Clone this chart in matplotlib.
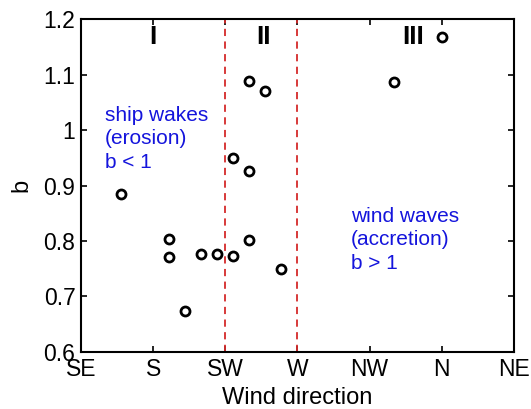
import numpy as np
import matplotlib
matplotlib.use("Agg")
import matplotlib.pyplot as plt

plt.rcParams['font.family'] = ['Liberation Sans', 'DejaVu Sans']

# wind direction in degrees (SE=135 ... NE=405)
tickPos = [135, 180, 225, 270, 315, 360, 405]
tickNames = ["SE", "S", "SW", "W", "NW", "N", "NE"]

windDir = [160, 190, 190, 200, 210, 220, 230, 240, 260, 230, 240, 240, 250, 330, 360]
bVals = [0.885, 0.804, 0.772, 0.674, 0.777, 0.777, 0.773, 0.801, 0.750,
         0.950, 0.926, 1.089, 1.070, 1.087, 1.168]

sectorBounds = [225, 270]
sectorNames = ["I", "II", "III"]
sectorX = [180, 249, 342]

fig = plt.figure(figsize=(5.31, 4.09), dpi=100)
ax = fig.add_axes([0.1525, 0.1394, 0.8155, 0.8141])

ax.plot(windDir, bVals, "o", mfc="none", mec="black", ms=6.5, mew=2)

for xb in sectorBounds:
    ax.axvline(xb, color="#d42a2a", lw=1.3, ls=(0, (4, 3)))

for name, xs in zip(sectorNames, sectorX):
    ax.text(xs, 1.19, name, ha="center", va="top", fontsize=19, fontweight="bold")

ax.text(150, 1.044, "ship wakes\n(erosion)\nb < 1", color="#1414dc", fontsize=15,
        va="top", ha="left", linespacing=1.3)
ax.text(303.5, 0.862, "wind waves\n(accretion)\nb > 1", color="#1414dc", fontsize=15,
        va="top", ha="left", linespacing=1.3)

ax.set_xlim(135, 405)
ax.set_ylim(0.6, 1.2)
ax.set_xticks(tickPos)
ax.set_xticklabels(tickNames)
ax.set_yticks(np.arange(0.6, 1.21, 0.1))
ax.set_yticklabels(["0.6", "0.7", "0.8", "0.9", "1", "1.1", "1.2"])
ax.tick_params(direction="in", top=True, right=True, length=4, width=1.2,
               labelsize=16.5, pad=4)
for s in ax.spines.values():
    s.set_linewidth(1.5)

ax.set_xlabel("Wind direction", fontsize=17, labelpad=5)
ax.set_ylabel("b", fontsize=17, labelpad=8)

fig.savefig("out.png", dpi=100)
